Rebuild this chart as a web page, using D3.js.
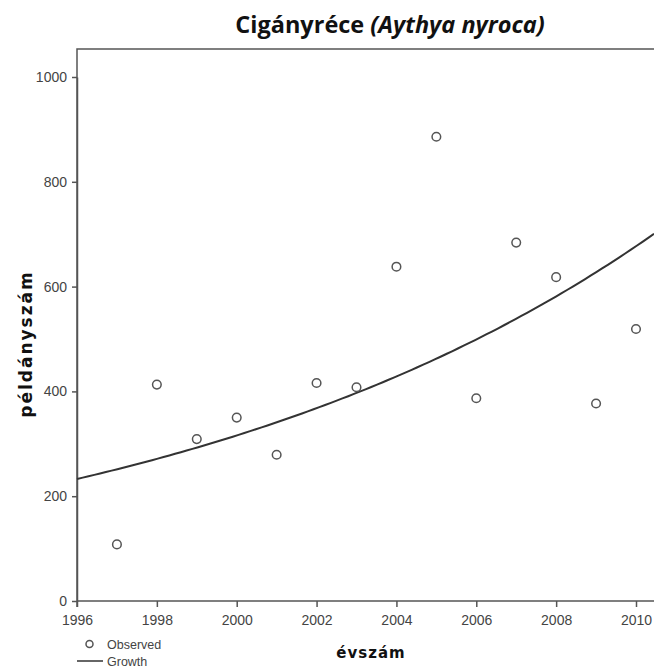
<!DOCTYPE html>
<html>
<head>
<meta charset="utf-8">
<script src="https://cdn.jsdelivr.net/npm/d3@7"></script>
<style>
  body { margin: 0; background: #fff; }
  svg { display: block; }
</style>
</head>
<body>
<div id="chart"></div>
<script>
// adatok
const years = [1997, 1998, 1999, 2000, 2001, 2002, 2003, 2004, 2005, 2006, 2007, 2008, 2009, 2010];
const counts = [108, 413, 309, 350, 279, 416, 408, 638, 886, 387, 684, 618, 377, 519];
const xTicks = [1996, 1998, 2000, 2002, 2004, 2006, 2008, 2010];
const yTicks = [0, 200, 400, 600, 800, 1000];

const width = 654, height = 668;
const plotLeft = 77, plotTop = 49, plotBottom = 601;

const svg = d3.select("#chart").append("svg")
    .attr("width", width)
    .attr("height", height);

const x = d3.scaleLinear().domain([1996, 2010]).range([plotLeft, 636]);
const y = d3.scaleLinear().domain([0, 1000]).range([plotBottom, 77]);

// Growth modell: ln(y) = b0 + b1*t (legkisebb négyzetek)
const lnv = counts.map(v => Math.log(v));
const mt = d3.mean(years), ml = d3.mean(lnv);
const b1 = d3.sum(years, (t, i) => (t - mt) * (lnv[i] - ml)) / d3.sum(years, t => (t - mt) ** 2);
const b0 = ml - b1 * mt;
const tEnd = x.invert(width);
const curve = d3.range(0, 101).map(i => {
    const t = 1996 + (tEnd - 1996) * i / 100;
    return [t, Math.exp(b0 + b1 * t)];
});

// cím
const title = svg.append("text")
    .attr("x", 390)
    .attr("y", 33)
    .attr("text-anchor", "middle")
    .style("font-family", "'Open Sans', sans-serif")
    .style("font-size", "23.5px")
    .style("font-weight", "bold")
    .style("fill", "#111");
title.append("tspan").text("Cigányréce ");
title.append("tspan").style("font-style", "italic").text("(Aythya nyroca)");

// keret
svg.append("path")
    .attr("d", `M${plotLeft},607V${plotTop}H${width}`)
    .attr("fill", "none")
    .attr("stroke", "#555")
    .attr("stroke-width", 1.5);

// tengelyek
const yAxis = svg.append("g")
    .attr("transform", `translate(${plotLeft},0)`)
    .call(d3.axisLeft(y).tickValues(yTicks).tickFormat(d3.format("d")).tickSize(5).tickSizeOuter(0).tickPadding(5));
const xAxis = svg.append("g")
    .attr("transform", `translate(0,${plotBottom})`)
    .call(d3.axisBottom(x).tickValues(xTicks).tickFormat(d3.format("d")).tickSize(6).tickSizeOuter(0).tickPadding(8));

xAxis.select(".domain").attr("d", `M${plotLeft},0H${width}`);
[yAxis, xAxis].forEach(g => {
    g.select(".domain").attr("stroke", "#555").attr("stroke-width", 1.5);
    g.selectAll(".tick line").attr("stroke", "#555").attr("stroke-width", 1.5);
    g.selectAll(".tick text")
        .style("font-family", "'Liberation Sans', Arial, sans-serif")
        .style("font-size", "14px")
        .attr("fill", "#444");
});

// görbe
svg.append("path")
    .datum(curve)
    .attr("fill", "none")
    .attr("stroke", "#333")
    .attr("stroke-width", 2)
    .attr("d", d3.line().x(d => x(d[0])).y(d => y(d[1])));

// megfigyelt pontok
svg.selectAll(".pt")
    .data(years)
    .enter().append("circle")
    .attr("class", "pt")
    .attr("cx", d => x(d))
    .attr("cy", (d, i) => y(counts[i]))
    .attr("r", 4.3)
    .attr("fill", "#fff")
    .attr("stroke", "#555")
    .attr("stroke-width", 1.5);

// tengelycímek
svg.append("text")
    .attr("x", 371)
    .attr("y", 658)
    .attr("text-anchor", "middle")
    .style("font-family", "'DejaVu Sans', sans-serif")
    .style("font-size", "15px")
    .style("font-weight", "bold")
    .style("letter-spacing", "1px")
    .style("fill", "#111")
    .text("évszám");

svg.append("text")
    .attr("transform", "translate(32,344) rotate(-90)")
    .attr("text-anchor", "middle")
    .style("font-family", "'DejaVu Sans', sans-serif")
    .style("font-size", "17px")
    .style("font-weight", "bold")
    .style("letter-spacing", "2px")
    .style("fill", "#111")
    .text("példányszám");

// jelmagyarázat
svg.append("circle")
    .attr("cx", 89.5).attr("cy", 644).attr("r", 3.5)
    .attr("fill", "#fff").attr("stroke", "#555").attr("stroke-width", 1.5);
svg.append("text")
    .attr("x", 107).attr("y", 649)
    .style("font-family", "'Liberation Sans', Arial, sans-serif")
    .style("font-size", "12.5px").attr("fill", "#444")
    .text("Observed");
svg.append("line")
    .attr("x1", 77).attr("x2", 103).attr("y1", 661).attr("y2", 661)
    .attr("stroke", "#333").attr("stroke-width", 1.5);
svg.append("text")
    .attr("x", 107).attr("y", 665.5)
    .style("font-family", "'Liberation Sans', Arial, sans-serif")
    .style("font-size", "12.5px").attr("fill", "#444")
    .text("Growth");
</script>
</body>
</html>
